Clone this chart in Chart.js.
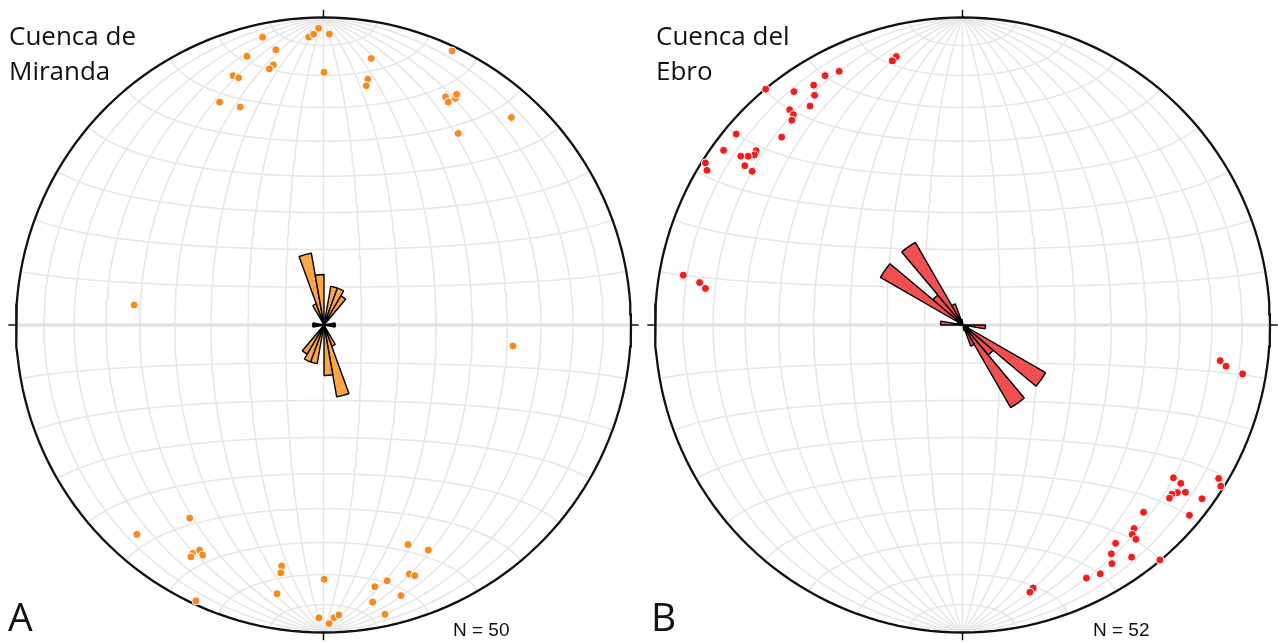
<!DOCTYPE html>
<html>
<head>
<meta charset="utf-8">
<script src="https://cdn.jsdelivr.net/npm/chart.js@4.4.1/dist/chart.umd.min.js"></script>
<style>
  html, body { margin: 0; padding: 0; background: #fff; }
  #wrap { position: relative; width: 1278px; height: 642px; overflow: hidden; }
  canvas { position: absolute; }
  .title { position: absolute; font-family: "Open Sans", sans-serif; font-size: 26px; line-height: 35px; color: #111; white-space: nowrap; }
  .panel { position: absolute; font-family: "Open Sans", sans-serif; font-size: 39px; line-height: 1; color: #111; }
  .count { position: absolute; font-family: "Liberation Sans", Arial, sans-serif; font-size: 19px; line-height: 1; color: #111; white-space: nowrap; }
</style>
</head>
<body>
<div id="wrap">
  <canvas id="netA" width="639" height="642" style="left:0;top:0"></canvas>
  <canvas id="netB" width="639" height="642" style="left:639px;top:0"></canvas>
  <canvas id="roseA" width="240" height="240" style="left:204px;top:205px"></canvas>
  <canvas id="roseB" width="240" height="240" style="left:843px;top:205px"></canvas>
  <div class="title" style="left:9px;top:18px">Cuenca de<br>Miranda</div>
  <div class="title" style="left:656px;top:18px">Cuenca del<br>Ebro</div>
  <div class="panel" style="left:8px;top:596px">A</div>
  <div class="panel" style="left:651px;top:596px">B</div>
  <div class="count" style="left:453px;top:620px">N = 50</div>
  <div class="count" style="left:1093px;top:620px">N = 52</div>
</div>
<script>
const mirandaPoles = [
  [-0.198, 0.936], [-0.048, 0.936], [-0.032, 0.946], [-0.016, 0.965], [0.019, 0.946],
  [-0.155, 0.895], [-0.249, 0.874], [-0.163, 0.846], [-0.176, 0.833], [-0.294, 0.811],
  [-0.276, 0.804], [0.002, 0.822], [0.155, 0.867], [0.144, 0.799], [0.139, 0.778],
  [-0.338, 0.725], [-0.271, 0.709], [0.418, 0.891], [0.397, 0.742], [0.406, 0.725],
  [0.429, 0.737], [0.433, 0.750], [0.611, 0.675], [0.438, 0.623],
  [-0.616, 0.065], [0.616, -0.068],
  [-0.435, -0.628], [-0.607, -0.681], [-0.425, -0.742], [-0.403, -0.732], [-0.393, -0.748],
  [-0.431, -0.754], [-0.415, -0.897], [-0.136, -0.784], [-0.139, -0.806], [-0.151, -0.874],
  [0.002, -0.827], [-0.015, -0.952], [0.034, -0.952], [0.050, -0.943], [0.018, -0.971],
  [0.275, -0.714], [0.341, -0.732], [0.279, -0.810], [0.297, -0.815], [0.207, -0.832],
  [0.167, -0.851], [0.252, -0.880], [0.160, -0.901], [0.200, -0.941],
];

const ebroPoles = [
  [-0.215, 0.873], [-0.228, 0.859], [-0.401, 0.825], [-0.447, 0.811], [-0.484, 0.780],
  [-0.481, 0.747], [-0.496, 0.712], [-0.548, 0.759], [-0.562, 0.700], [-0.550, 0.684],
  [-0.555, 0.666], [-0.640, 0.767], [-0.588, 0.611], [-0.736, 0.621], [-0.777, 0.568],
  [-0.671, 0.567], [-0.677, 0.553], [-0.697, 0.549], [-0.721, 0.549], [-0.708, 0.518],
  [-0.684, 0.500], [-0.836, 0.527], [-0.831, 0.503], [-0.908, 0.162], [-0.855, 0.138],
  [-0.836, 0.119],
  [0.838, -0.116], [0.857, -0.134], [0.911, -0.159], [0.686, -0.497], [0.710, -0.515],
  [0.699, -0.545], [0.725, -0.544], [0.681, -0.550], [0.673, -0.563], [0.779, -0.565],
  [0.833, -0.499], [0.840, -0.524], [0.738, -0.619], [0.589, -0.609], [0.558, -0.662],
  [0.552, -0.681], [0.564, -0.697], [0.498, -0.710], [0.484, -0.744], [0.486, -0.776],
  [0.550, -0.755], [0.642, -0.764], [0.448, -0.809], [0.403, -0.823], [0.230, -0.855],
  [0.219, -0.869],
];

// rose diagrams: counts per 10° bin from 0° to 180°, mirrored to 180–360°
const roseBins = ["0", "10", "20", "30", "40", "50", "60", "70", "80",
  "90", "100", "110", "120", "130", "140", "150", "160", "170"];
const mirandaRose = [0, 7, 7, 6, 0, 0, 0, 0, 2, 2, 0, 0, 0, 0, 0, 4, 13, 9];
const ebroRose = [0, 0, 0, 0, 0, 0, 0, 0, 0, 4, 1, 1, 17, 7, 17, 4, 1, 0];
const ROSE_MAX = 21.4;

const GRID = "#e6e6e6";

const rad = (d) => (d * Math.PI) / 180;

// Schmidt (equal-area, lower hemisphere) projection, net radius = 1
const project = (x, y, z) => {
  const k = Math.sqrt(1 / (1 + z));
  return { x: x * k, y: y * k };
};

const greatCircle = (lon) => {
  const pts = [];
  for (let lat = -90; lat <= 90; lat += 2) {
    const c = Math.cos(rad(lat));
    pts.push(project(c * Math.sin(rad(lon)), Math.sin(rad(lat)), c * Math.cos(rad(lon))));
  }
  return pts;
};

const smallCircle = (lat) => {
  const pts = [];
  for (let lon = -90; lon <= 90; lon += 2) {
    const c = Math.cos(rad(lat));
    pts.push(project(c * Math.sin(rad(lon)), Math.sin(rad(lat)), c * Math.cos(rad(lon))));
  }
  return pts;
};

const lineSet = (data, color, width, order, clip) => ({
  data,
  showLine: true,
  borderColor: color,
  borderWidth: width,
  pointRadius: 0,
  fill: false,
  order,
  clip: clip === undefined ? 5 : clip,
});

const netDatasets = () => {
  const sets = [];
  for (let lon = -80; lon <= 80; lon += 10) sets.push(lineSet(greatCircle(lon), GRID, 1.5, 4));
  for (let lat = -80; lat <= 80; lat += 10) {
    if (lat !== 0) sets.push(lineSet(smallCircle(lat), GRID, 1.5, 4));
  }
  sets.push(lineSet(smallCircle(0), "#e3e3e3", 3.5, 3));
  const rim = greatCircle(90).concat(greatCircle(-90).reverse());
  sets.push(lineSet(rim, "#111", 2.3, 2, false));
  const t = 1.025;
  sets.push(lineSet([{ x: 0, y: 1 }, { x: 0, y: t }], "#111", 1.5, 2, false));
  sets.push(lineSet([{ x: 0, y: -1 }, { x: 0, y: -t }], "#111", 1.5, 2, false));
  sets.push(lineSet([{ x: 1, y: 0 }, { x: t, y: 0 }], "#111", 1.5, 2, false));
  sets.push(lineSet([{ x: -1, y: 0 }, { x: -t, y: 0 }], "#111", 1.5, 2, false));
  return sets;
};

const initNet = (id, poles, color) =>
  new Chart(document.getElementById(id), {
    type: "scatter",
    data: {
      datasets: [
        ...netDatasets(),
        {
          data: poles.map(([x, y]) => ({ x, y })),
          pointRadius: 4,
          pointBackgroundColor: color,
          pointBorderColor: "#fff",
          pointBorderWidth: 1,
          showLine: false,
          order: 0,
        },
      ],
    },
    options: {
      animation: false,
      responsive: false,
      maintainAspectRatio: false,
      layout: { padding: { left: 16, right: 8, top: 17.5, bottom: 9.5 } },
      plugins: { legend: { display: false }, tooltip: { enabled: false } },
      scales: {
        x: { type: "linear", min: -1, max: 1, display: false },
        y: { type: "linear", min: -1, max: 1, display: false },
      },
    },
  });

const initRose = (id, counts, fillColor) =>
  new Chart(document.getElementById(id), {
    type: "polarArea",
    data: {
      labels: roseBins.concat(roseBins.map((b) => String(Number(b) + 180))),
      datasets: [
        {
          data: counts.concat(counts),
          backgroundColor: fillColor,
          borderColor: "#000",
          borderWidth: 1.4,
        },
      ],
    },
    options: {
      animation: false,
      responsive: false,
      maintainAspectRatio: false,
      layout: { padding: 0 },
      plugins: { legend: { display: false }, tooltip: { enabled: false } },
      scales: { r: { display: false, min: 0, max: ROSE_MAX, startAngle: 0 } },
    },
  });

initNet("netA", mirandaPoles, "#f7891f");
initNet("netB", ebroPoles, "#f21c1c");
initRose("roseA", mirandaRose, "#f9a548");
initRose("roseB", ebroRose, "#f25050");
</script>
</body>
</html>
